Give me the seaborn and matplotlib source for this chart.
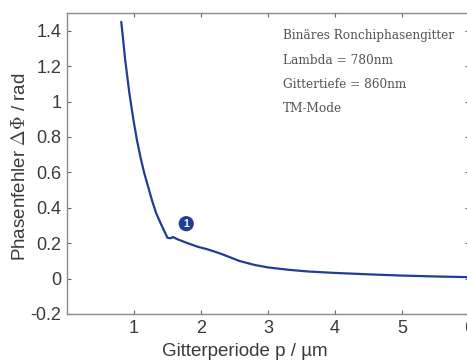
import matplotlib
matplotlib.use("Agg")
import matplotlib.pyplot as plt
import seaborn as sns
import pandas as pd

# data
period_um = [0.81, 0.87, 0.93, 0.99, 1.045, 1.10, 1.15, 1.21, 1.27, 1.33, 1.40, 1.45,
             1.50, 1.55, 1.58, 1.65, 1.80, 1.95, 2.10, 2.30, 2.57, 2.80, 3.00, 3.30,
             3.60, 4.00, 4.50, 5.00, 5.50, 6.00]
phase_err = [1.45, 1.23, 1.05, 0.90, 0.78, 0.68, 0.60, 0.52, 0.44, 0.37, 0.31, 0.27,
             0.23, 0.228, 0.235, 0.222, 0.20, 0.18, 0.165, 0.14, 0.10, 0.077, 0.063, 0.05,
             0.04, 0.032, 0.024, 0.017, 0.012, 0.008]
x_ticks = [1, 2, 3, 4, 5, 6]
y_ticks = [-0.2, 0, 0.2, 0.4, 0.6, 0.8, 1.0, 1.2, 1.4]
y_tick_labels = ["-0.2", "0", "0.2", "0.4", "0.6", "0.8", "1", "1.2", "1.4"]
info_lines = ["Binäres Ronchiphasengitter", "Lambda = 780nm", "Gittertiefe = 860nm", "TM-Mode"]
marker_pos = (1.78, 0.31)
marker_label = "1"

sns.set_theme(style="white")
plt.rcParams['font.family'] = ['Liberation Sans', 'DejaVu Sans']
plt.rcParams['mathtext.fontset'] = 'cm'

df = pd.DataFrame({"p": period_um, "phi": phase_err})

fig = plt.figure(figsize=(4.67, 3.6), dpi=100)
ax = fig.add_axes([67/467, 1 - 314/360, (469 - 67)/467, (314 - 13)/360])

line_color = "#213f92"
sns.lineplot(data=df, x="p", y="phi", ax=ax, color=line_color, linewidth=1.6, sort=False)

ax.set_xlim(0, 6)
ax.set_ylim(-0.2, 1.5)
ax.set_xticks(x_ticks)
ax.set_xticklabels([str(t) for t in x_ticks])
ax.set_yticks(y_ticks)
ax.set_yticklabels(y_tick_labels)

grey = "#8a8a8a"
for s in ax.spines.values():
    s.set_color(grey)
    s.set_linewidth(1.0)
ax.tick_params(direction="in", length=3, width=0.8, color="#666666",
               top=True, right=True, bottom=True, left=True,
               labelsize=13, labelcolor="#3a3a3a", pad=4)

ax.set_xlabel("Gitterperiode p / µm", fontsize=13.5, color="#3a3a3a")
ax.set_ylabel(r"Phasenfehler $\Delta\Phi$ / rad", fontsize=13.5, color="#3a3a3a")
ax.xaxis.set_label_coords((245 - 67) / 402, -0.098)
ax.yaxis.set_label_coords(-0.095, 0.49)

# info text
y0 = 36
for i, t in enumerate(info_lines):
    fig.text(283/467, 1 - (y0 + i * 24.3)/360, t, fontfamily=['DejaVu Serif'],
             fontsize=8.7, color="#555555", va="center", ha="left")

# circled marker
ax.scatter([marker_pos[0]], [marker_pos[1]], s=120, color=line_color, zorder=5, edgecolors="none")
ax.text(marker_pos[0], marker_pos[1], marker_label, color="white", fontsize=7.5,
        fontweight="bold", ha="center", va="center", zorder=6)

fig.savefig("out.png", dpi=100)
